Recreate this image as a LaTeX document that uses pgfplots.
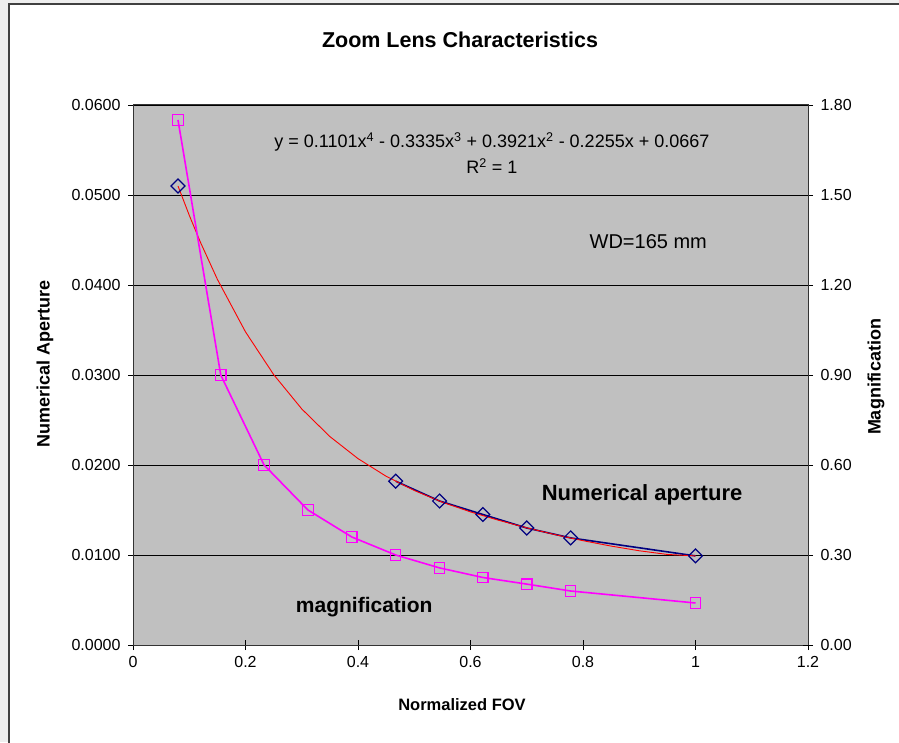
\documentclass[border=0pt]{standalone}
\usepackage{fontspec}
\setmainfont{Liberation Sans}
\usepackage{pgfplots}
\pgfplotsset{compat=1.18}
\definecolor{plotgray}{HTML}{C0C0C0}
\definecolor{navyc}{HTML}{000080}
\definecolor{magc}{HTML}{FF00FF}
\definecolor{redc}{HTML}{FF0000}
\definecolor{outergray}{HTML}{EEEEEE}
\begin{document}
\begin{tikzpicture}[x=1pt,y=1pt]
\useasboundingbox (0,0) rectangle (899,742);
\fill[outergray] (0,0) rectangle (899,742);
\draw[fill=white, draw=black!75, line width=1.2pt] (9,-5) rectangle (905,738);

% titles
\node[font=\fontsize{21.5}{24}\selectfont\bfseries] at (460,702) {Zoom Lens Characteristics};
\node[font=\fontsize{18}{20}\selectfont\bfseries, rotate=90] at (45,378) {Numerical Aperture};
\node[font=\fontsize{18}{20}\selectfont\bfseries, rotate=90] at (876,365) {Magnification};
\node[font=\fontsize{16.5}{20}\selectfont\bfseries] at (462,37) {Normalized FOV};

\begin{axis}[
  at={(133pt,97pt)}, anchor=south west, scale only axis,
  width=675pt, height=540pt,
  xmin=0, xmax=1.2, ymin=0, ymax=0.06,
  scaled y ticks=false, scaled x ticks=false,
  axis background/.style={fill=plotgray},
  axis line style={black!80, line width=1pt},
  xtick={0,0.2,0.4,0.6,0.8,1,1.2},
  xticklabels={0,0.2,0.4,0.6,0.8,1,1.2},
  ytick={0,0.01,0.02,0.03,0.04,0.05,0.06},
  yticklabels={0.0000,0.0100,0.0200,0.0300,0.0400,0.0500,0.0600},
  xtick pos=bottom, ytick pos=left,
  tick align=center, major tick length=10pt,
  tick style={black, line width=0.8pt},
  ymajorgrids, grid style={black, line width=0.8pt},
  ticklabel style={font=\fontsize{16}{18}\selectfont},
  yticklabel style={xshift=-4pt},
  xticklabel style={yshift=-3pt},
  unbounded coords=jump, clip=false,
]
% Numerical aperture data (navy diamonds)
\addplot[navyc, line width=1.6pt, mark=square,
  mark size=4.9pt, mark options={rotate=45, solid, line width=1.2pt, fill=none}]
  coordinates {
  (0.080,0.0510) (0.156,nan)
  (0.467,0.0182) (0.545,0.0160) (0.622,0.0145) (0.700,0.0130)
  (0.778,0.0119) (1.000,0.0099)
  };
% Polynomial trendline (red)
\addplot[redc, line width=0.9pt, no marks] coordinates {
  (0.08,0.05100) (0.10,0.04775) (0.12,0.04473) (0.15,0.04063)
  (0.20,0.03479) (0.25,0.03005) (0.30,0.02623) (0.35,0.02316)
  (0.40,0.02071) (0.45,0.01875) (0.50,0.01717) (0.55,0.01587)
  (0.60,0.01479) (0.65,0.01386) (0.70,0.01302) (0.75,0.01227)
  (0.80,0.01159) (0.85,0.01099) (0.90,0.01047) (0.95,0.01006)
  (1.00,0.00990)
};
\node[font=\fontsize{18}{20}\selectfont] at (axis cs:0.638,0.0559)
  {y = 0.1101x\textsuperscript{4} - 0.3335x\textsuperscript{3} + 0.3921x\textsuperscript{2} - 0.2255x + 0.0667};
\node[font=\fontsize{18}{20}\selectfont] at (axis cs:0.638,0.0532) {R\textsuperscript{2} = 1};
\node[font=\fontsize{20}{22}\selectfont] at (axis cs:0.916,0.0448) {WD=165 mm};
\node[font=\fontsize{22}{24}\selectfont\bfseries] at (axis cs:0.905,0.01667) {Numerical aperture};
\node[font=\fontsize{21}{24}\selectfont\bfseries] at (axis cs:0.411,0.00422) {magnification};
\end{axis}

\begin{axis}[
  at={(133pt,97pt)}, anchor=south west, scale only axis,
  width=675pt, height=540pt,
  xmin=0, xmax=1.2, ymin=0, ymax=1.8,
  scaled y ticks=false,
  axis x line=none, axis y line*=right,
  axis line style={black!80, line width=1pt},
  ytick={0,0.3,0.6,0.9,1.2,1.5,1.8},
  yticklabels={0.00,0.30,0.60,0.90,1.20,1.50,1.80},
  tick align=center, major tick length=10pt,
  tick style={black, line width=0.8pt},
  ticklabel style={font=\fontsize{16}{18}\selectfont},
  yticklabel style={xshift=4pt},
  clip=false,
]
\addplot[magc, line width=1.6pt, mark=square,
  mark size=5.2pt, mark options={solid, line width=1.2pt, fill=none}]
  coordinates {
  (0.080,1.75) (0.156,0.90) (0.233,0.60) (0.311,0.45) (0.389,0.36)
  (0.467,0.30) (0.545,0.257) (0.622,0.225) (0.700,0.203) (0.778,0.180)
  (1.000,0.140)
  };
\end{axis}
\end{tikzpicture}
\end{document}
